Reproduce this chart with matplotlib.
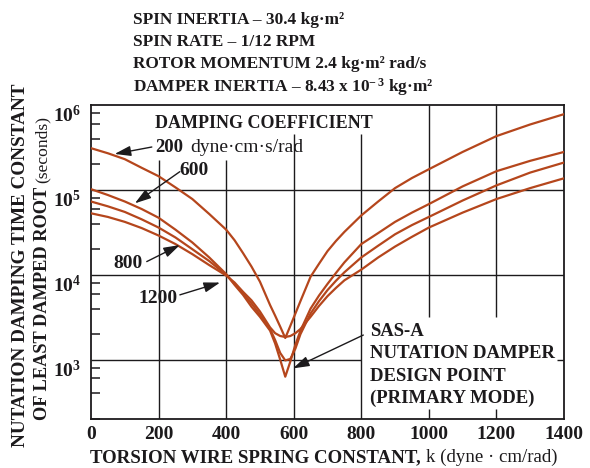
import numpy as np
import matplotlib.pyplot as plt

plt.rcParams['font.family'] = ['Liberation Serif', 'DejaVu Serif']
plt.rcParams['mathtext.fontset'] = 'custom'
plt.rcParams['mathtext.rm'] = 'Liberation Serif:bold'
plt.rcParams['mathtext.it'] = 'Liberation Serif:bold:italic'
plt.rcParams['mathtext.bf'] = 'Liberation Serif:bold'

# torsion wire spring constant k (dyne cm/rad)
k = [0, 50, 100, 150, 200, 250, 300, 350, 400, 425, 450, 475, 500, 530, 545, 560,
     575, 590, 605, 620, 650, 675, 700, 725, 750, 800, 850, 900, 950, 1000,
     1100, 1200, 1300, 1400]

# time constant (s) for each damping coefficient (dyne cm s/rad)
tau_200 = [3.1e5, 2.7e5, 2.3e5, 1.82e5, 1.45e5, 1.07e5, 7.8e4, 5.2e4, 3.4e4, 2.55e4,
           1.8e4, 1.25e4, 8.3e3, 4.4e3, 3.3e3, 2.45e3, 1.8e3, 2.5e3, 3.5e3, 4.9e3,
           9.5e3, 1.35e4, 1.9e4, 2.5e4, 3.2e4, 5.0e4, 7.3e4, 1.05e5, 1.38e5, 1.75e5,
           2.8e5, 4.3e5, 5.9e5, 7.8e5]
tau_600 = [1.02e5, 8.7e4, 7.3e4, 5.95e4, 4.7e4, 3.4e4, 2.4e4, 1.6e4, 1.02e4, 7.6e3,
           5.8e3, 4.2e3, 3.2e3, 2.2e3, 1.55e3, 1.0e3, 6.3e2, 9.5e2, 1.5e3, 2.2e3,
           4.0e3, 5.7e3, 7.8e3, 1.05e4, 1.4e4, 2.3e4, 3.1e4, 4.2e4, 5.4e4, 6.8e4,
           1.1e5, 1.66e5, 2.2e5, 2.8e5]
tau_800 = [7.3e4, 6.4e4, 5.5e4, 4.5e4, 3.6e4, 2.75e4, 2.0e4, 1.45e4, 1.0e4, 7.8e3,
           6.0e3, 4.6e3, 3.4e3, 2.3e3, 1.7e3, 1.2e3, 9.8e2, 1.02e3, 1.35e3, 2.0e3,
           3.5e3, 4.9e3, 6.6e3, 8.5e3, 1.07e4, 1.6e4, 2.2e4, 3.0e4, 3.85e4, 4.8e4,
           7.5e4, 1.13e5, 1.6e5, 2.1e5]
tau_1200 = [5.3e4, 4.8e4, 4.2e4, 3.55e4, 2.9e4, 2.3e4, 1.75e4, 1.3e4, 0.98e4, 8.1e3,
            6.3e3, 5.0e3, 3.7e3, 2.4e3, 2.05e3, 1.9e3, 1.85e3, 1.9e3, 2.05e3, 2.3e3,
            3.2e3, 4.3e3, 5.6e3, 7.0e3, 8.6e3, 1.15e4, 1.6e4, 2.15e4, 2.8e4, 3.6e4,
            5.4e4, 7.8e4, 1.05e5, 1.37e5]

xticks = [0, 200, 400, 600, 800, 1000, 1200, 1400]
yticks = [1e3, 1e4, 1e5, 1e6]
ytick_labels = [r'$\mathrm{10^{3}}$', r'$\mathrm{10^{4}}$',
                r'$\mathrm{10^{5}}$', r'$\mathrm{10^{6}}$']

header = ['SPIN INERTIA – 30.4 kg·m²',
          'SPIN RATE – 1/12 RPM',
          'ROTOR MOMENTUM 2.4 kg·m² rad/s',
          r'DAMPER INERTIA – 8.43 x 10$^{-\,3}$ kg·m²']

ink = '#1c1a1c'
curve_color = '#b5461c'

fig = plt.figure(figsize=(5.9, 4.68), dpi=100)
ax = fig.add_axes([91/590, 1 - 419/468, (564 - 91)/590, (419 - 105)/468])
ax.set_yscale('log')
ax.set_xlim(0, 1400)
ax.set_ylim(200, 1e6)

# grid, with the gaps the labels leave in the original
ax.hlines([1e4, 1e5], 0, 1400, color=ink, lw=1.0, zorder=1)
ax.hlines(1e3, 0, 800, color=ink, lw=1.0, zorder=1)
ax.hlines(1e3, 1378, 1400, color=ink, lw=1.0, zorder=1)
ax.vlines([200, 400], 200, 2.25e5, color=ink, lw=1.0, zorder=1)
ax.vlines([600, 800], 200, 4.6e5, color=ink, lw=1.0, zorder=1)
ax.vlines([1000, 1200], 3.2e3, 1e6, color=ink, lw=1.0, zorder=1)
ax.vlines([1000, 1200], 200, 2.6e2, color=ink, lw=1.0, zorder=1)

for tau in [tau_200, tau_600, tau_800, tau_1200]:
    ax.plot(k, tau, color=curve_color, lw=1.6, zorder=3, solid_joinstyle='round')

for s in ax.spines.values():
    s.set_linewidth(1.3)
    s.set_color(ink)

ax.set_xticks(xticks)
ax.set_xticklabels([str(v) for v in xticks], fontsize=14, fontweight='bold', color=ink)
ax.set_yticks(yticks)
ax.set_yticklabels(ytick_labels, fontsize=14, color=ink)
ax.yaxis.set_minor_locator(plt.matplotlib.ticker.LogLocator(base=10, subs=[2, 4, 6, 8]))
ax.yaxis.set_minor_formatter(plt.NullFormatter())
ax.tick_params(axis='x', length=0, pad=5)
ax.tick_params(axis='y', which='major', length=0, pad=7)
ax.tick_params(axis='y', which='minor', direction='in', length=6.5, width=1.1, color=ink)
for lab in ax.get_yticklabels():
    lab.set_verticalalignment('top')

# annotations
ax.text(189, 6.1e5, 'DAMPING COEFFICIENT', fontsize=13, fontweight='bold',
        color=ink, va='center', ha='left')
t200 = ax.text(189, 3.2e5, '200', fontsize=13.5, fontweight='bold', color=ink,
               va='center', ha='left')
ax.annotate('dyne·cm·s/rad', xy=(1, 0.5), xycoords=t200, xytext=(5, 0),
            textcoords='offset points', fontsize=14, color=ink, va='center', ha='left')
ax.text(263, 1.71e5, '600', fontsize=14, fontweight='bold', color=ink, va='center', ha='left')
ax.text(110, 1.34e4, '800', fontsize=14, fontweight='bold', color=ink, va='center', ha='center')
ax.text(198, 5.2e3, '1200', fontsize=14, fontweight='bold', color=ink, va='center', ha='center')

arrow = dict(arrowstyle='-|>,head_length=0.7,head_width=0.22', color=ink, lw=1.0,
             mutation_scale=14, shrinkA=0, shrinkB=0)
ax.annotate('', xy=(70, 2.65e5), xytext=(180, 3.2e5), arrowprops=arrow)
ax.annotate('', xy=(130, 6.95e4), xytext=(263, 1.64e5), arrowprops=arrow)
ax.annotate('', xy=(263, 2.24e4), xytext=(165, 1.43e4), arrowprops=arrow)
ax.annotate('', xy=(382, 8.1e3), xytext=(263, 5.8e3), arrowprops=arrow)
ax.annotate('', xy=(598, 7.9e2), xytext=(806, 1.95e3), arrowprops=arrow)

sas_lines = ['SAS-A', 'NUTATION DAMPER', 'DESIGN POINT', '(PRIMARY MODE)']
sas_y = [2.14e3, 1.17e3, 6.3e2, 3.54e2]
for line, yv in zip(sas_lines, sas_y):
    ax.text(825, yv, line, fontsize=13.5, fontweight='bold', color=ink, va='center', ha='left')

# header block
for i, line in enumerate(header):
    fig.text(132.7/590, 1 - (20 + 22.2*i)/468, line, fontsize=12.4, fontweight='bold',
             color=ink, va='center', ha='left')

# axis labels
xl = fig.text(90/590, 1 - 466/468, 'TORSION WIRE SPRING CONSTANT,', fontsize=13.6,
              fontweight='bold', color=ink, va='bottom', ha='left')
fig.canvas.draw()
ax.annotate('k (dyne · cm/rad)', xy=(1, 0), xycoords=xl, xytext=(4, 0),
            textcoords='offset points', fontsize=13.6, color=ink, va='bottom', ha='left',
            annotation_clip=False)

fig.text(21/590, 1 - 265/468, 'NUTATION DAMPING TIME CONSTANT', fontsize=13.8,
         fontweight='bold', color=ink, rotation=90, va='center', ha='center')
yl = fig.text(43/590, 1 - 420/468, 'OF LEAST DAMPED ROOT', fontsize=13.2,
              fontweight='bold', color=ink, rotation=90, va='bottom', ha='center')
ax.annotate('(seconds)', xy=(0.5, 1), xycoords=yl, xytext=(0, 3),
            textcoords='offset points', fontsize=12.6, color=ink, rotation=90,
            va='bottom', ha='center', annotation_clip=False)

fig.savefig('out.png', dpi=100)
